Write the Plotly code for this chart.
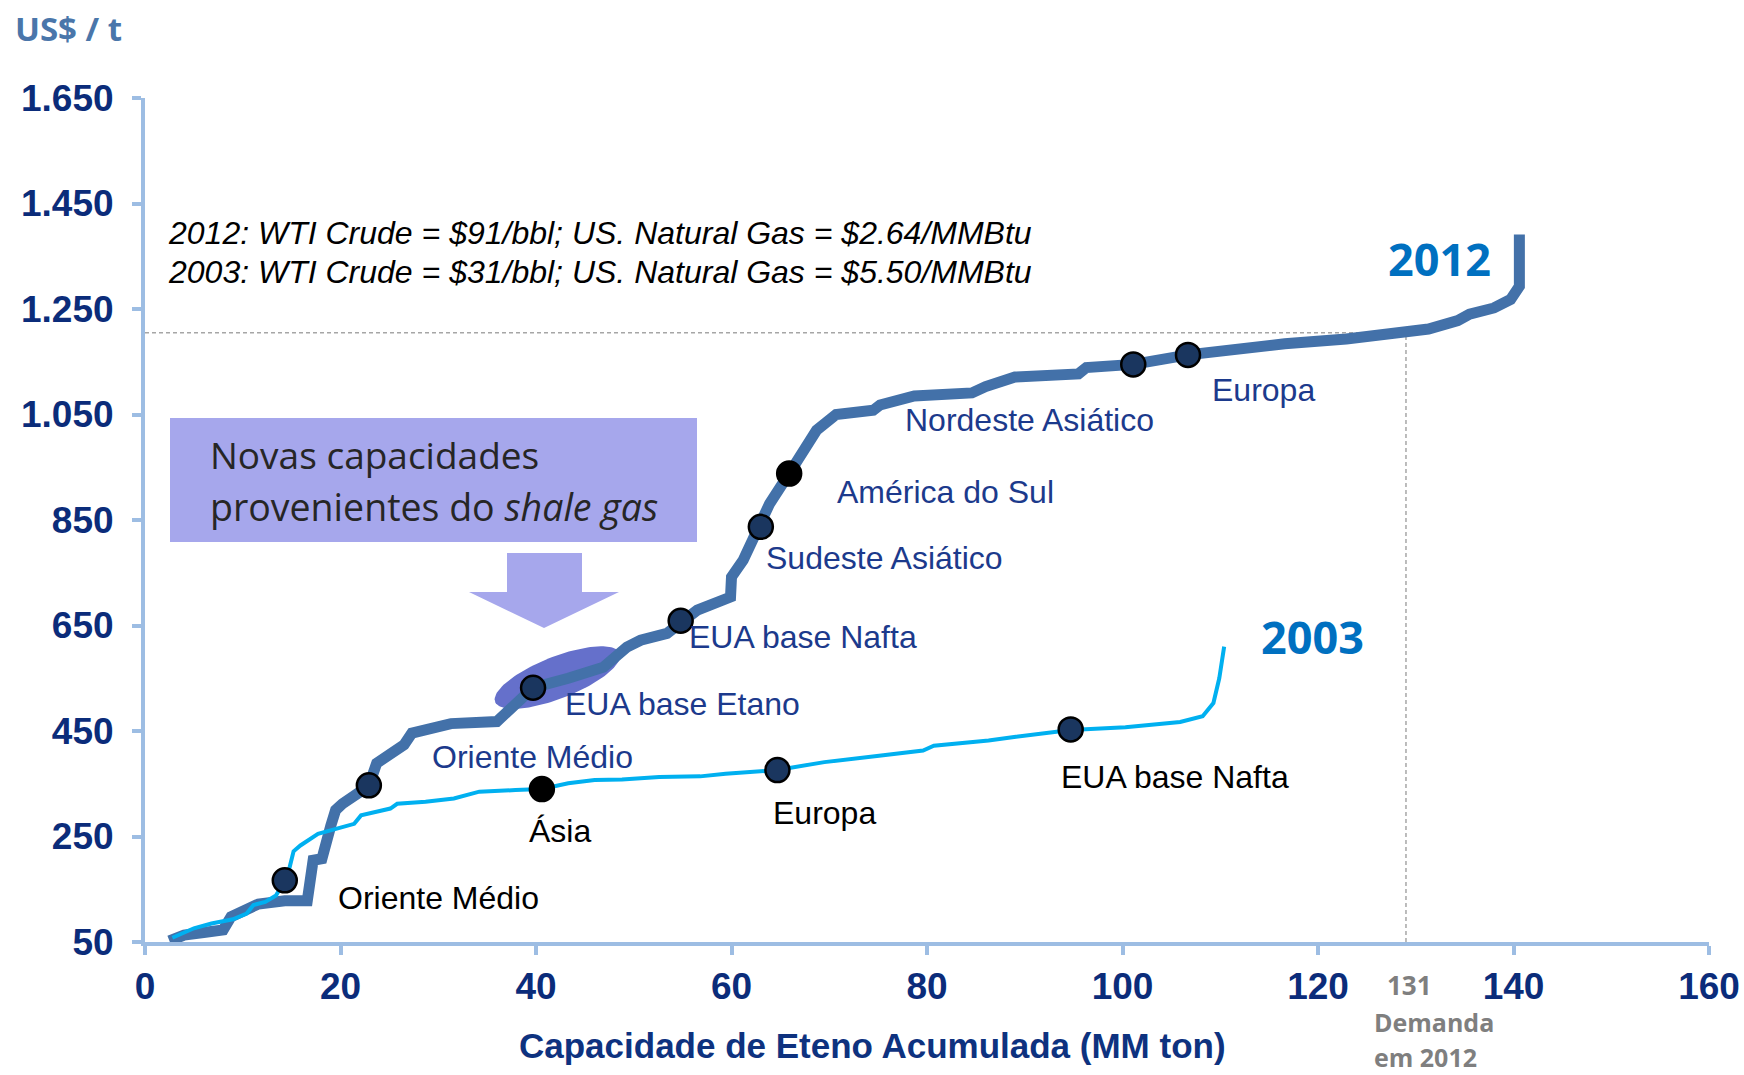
import numpy as np
import plotly.graph_objects as go

# ---------------- data ----------------
x_2012 = [2.5, 4.0, 6.0, 8.0, 8.8, 10.0, 11.6, 14.3, 16.6, 17.2, 18.1, 19.0, 19.5, 20.2, 21.4, 22.9,
          23.7, 25.1, 26.5, 27.3, 30.5, 31.3, 36.0, 37.9, 39.7, 43.3, 44.9, 46.9, 49.3, 50.7, 53.4,
          54.9, 56.5, 59.9, 60.0, 61.2, 62.9, 63.9, 65.9, 68.7, 70.7, 74.5, 75.2, 78.7, 84.6, 86.0,
          89.0, 95.5, 96.3, 101.1, 106.7, 111.6, 116.6, 122.9, 128.0, 131.3, 134.3, 135.5, 138.0,
          139.7, 140.6, 140.6]
y_2012 = [52, 63, 68, 73, 98, 110, 122, 128, 128, 205, 208, 270, 300, 312, 325, 346,
          389, 405, 424, 446, 458, 464, 468, 502, 532, 550, 559, 571, 609, 622, 635,
          659, 679, 704, 742, 774, 837, 881, 938, 1020, 1050, 1058, 1068, 1085, 1091, 1103,
          1121, 1127, 1139, 1145, 1163, 1175, 1184, 1193, 1203, 1212, 1228, 1240, 1252,
          1268, 1293, 1391]

x_2003 = [2.8, 5.0, 6.8, 9.0, 10.4, 11.1, 12.3, 13.4, 14.3, 14.8, 15.2, 15.9, 17.7, 19.6, 21.4,
          22.1, 25.1, 25.8, 28.7, 31.6, 34.2, 37.9, 40.6, 43.3, 46.0, 48.8, 52.6, 56.8, 59.4,
          64.7, 69.5, 75.1, 79.6, 80.7, 86.3, 89.1, 94.7, 100.3, 105.9, 108.2, 109.3, 109.9, 110.4]
y_2003 = [58, 76, 85, 93, 104, 120, 126, 138, 167, 192, 222, 233, 255, 265, 274,
          290, 303, 312, 316, 322, 335, 338, 340, 351, 357, 358, 363, 364, 369,
          376, 391, 403, 413, 422, 432, 439, 452, 457, 467, 478, 503, 550, 610]

# regions marked on the curves
regions_2012 = ["Oriente Médio", "EUA base Etano", "EUA base Nafta", "Sudeste Asiático",
                "América do Sul", "Nordeste Asiático", "Europa"]
mx_2012 = [22.9, 39.7, 54.8, 63.0, 65.9, 101.1, 106.7]
my_2012 = [347, 532, 659, 837, 938, 1145, 1163]

regions_2003 = ["Oriente Médio", "Ásia", "Europa", "EUA base Nafta"]
mx_2003 = [14.3, 40.6, 64.7, 94.7]
my_2003 = [167, 340, 376, 453]

x_ticks = [0, 20, 40, 60, 80, 100, 120, 140, 160]
y_ticks = [50, 250, 450, 650, 850, 1050, 1250, 1450, 1650]
y_tick_text = ["50", "250", "450", "650", "850", "1.050", "1.250", "1.450", "1.650"]

demand_2012 = 129          # position of the demand marker line on the axis
demand_label = "131"
demand_price = 1205

notes = ["2012: WTI Crude = $91/bbl; US. Natural Gas = $2.64/MMBtu",
         "2003: WTI Crude = $31/bbl; US. Natural Gas = $5.50/MMBtu"]

# ---------------- styling / layout helpers ----------------
NAVY_TICK = "#0b2c7a"
NAVY_LBL = "#1c3a8c"
LINE12 = "#4371a9"
LINE03 = "#00b0f0"
MK_NAVY = "#1a365f"
AXIS = "#9dbde3"
LAV = "#a6a7ec"

W, H = 1744, 1075
PL, PR, PT, PB = 145, 1709, 98, 942     # plot area on the page (px)
XS = (PR - PL) / 160.0
YS = (PB - PT) / 1600.0

def px_x(px):
    return (px - PL) / XS

def px_y(py):
    return 50 + (PB - py) / YS

def pap_x(px):
    return (px - PL) / (PR - PL)

def pap_y(py):
    return (PB - py) / (PB - PT)

fig = go.Figure()

# ellipse highlighting ethane-based US capacity
cx, cy, ea, eb, th = 557.5, 677.5, 67, 21, np.radians(21.4)
t = np.linspace(0, 2 * np.pi, 120)
ex = cx + ea * np.cos(t) * np.cos(th) - eb * np.sin(t) * np.sin(th)
ey = cy - (ea * np.cos(t) * np.sin(th) + eb * np.sin(t) * np.cos(th))
fig.add_trace(go.Scatter(x=px_x(ex), y=px_y(ey), mode="lines", fill="toself",
                         fillcolor="#6570cb", line=dict(width=0, color="#6570cb"),
                         hoverinfo="skip"))

fig.add_trace(go.Scatter(x=x_2012, y=y_2012, mode="lines",
                         line=dict(color=LINE12, width=11), hoverinfo="skip"))
fig.add_trace(go.Scatter(x=x_2003, y=y_2003, mode="lines",
                         line=dict(color=LINE03, width=4), hoverinfo="skip"))

col03 = [MK_NAVY if r != "Ásia" else "#000000" for r in regions_2003]
col12 = [MK_NAVY if r != "América do Sul" else "#000000" for r in regions_2012]
fig.add_trace(go.Scatter(x=mx_2003, y=my_2003, mode="markers",
                         marker=dict(size=24, color=col03, line=dict(color="#000000", width=2.5))))
fig.add_trace(go.Scatter(x=mx_2012, y=my_2012, mode="markers",
                         marker=dict(size=24, color=col12, line=dict(color="#000000", width=2.5))))

# labels (page pixel centres)
lbl12_pos = [(532, 757), (682, 704), (803, 637), (884, 558), (945, 492), (1029, 420), (1263, 390)]
lbl03_pos = [(438, 898), (560, 831), (824, 813), (1175, 777)]

C = dict(xanchor="center", yanchor="middle", showarrow=False)
L = dict(xanchor="left", yanchor="middle", showarrow=False)

ann = []
for r, (px, py) in zip(regions_2012, lbl12_pos):
    ann.append(dict(x=px_x(px), y=px_y(py), text=r, **C,
                    font=dict(family="Liberation Sans", size=32, color=NAVY_LBL)))
for r, (px, py) in zip(regions_2003, lbl03_pos):
    ann.append(dict(x=px_x(px), y=px_y(py), text=r, **C,
                    font=dict(family="Liberation Sans", size=32, color="#000000")))

for txt, py in zip(notes, [232.5, 271.5]):
    ann.append(dict(x=px_x(166), y=px_y(py), text="<i>" + txt + "</i>", **L,
                    font=dict(family="Liberation Sans", size=32, color="#000000")))

ann.append(dict(x=px_x(1439), y=px_y(258), text="2012", **C,
                font=dict(family="Open Sans", size=45, color="#0070c0", weight="bold")))
ann.append(dict(x=px_x(1312), y=px_y(636), text="2003", **C,
                font=dict(family="Open Sans", size=45, color="#0070c0", weight="bold")))

ann.append(dict(x=px_x(208), y=px_y(454), text="Novas capacidades", **L,
                font=dict(family="Open Sans", size=37, color="#262626")))
ann.append(dict(x=px_x(208), y=px_y(506), text="provenientes do <i>shale gas</i>", **L,
                font=dict(family="Open Sans", size=37.5, color="#262626")))

# texts outside the plotting area (paper coordinates)
ann.append(dict(xref="paper", yref="paper", x=pap_x(68), y=pap_y(28), text="US$ / t", **C,
                font=dict(family="Open Sans", size=33, color="#4a76aa", weight="bold")))
ann.append(dict(xref="paper", yref="paper", x=pap_x(872), y=pap_y(1045),
                text="Capacidade de Eteno Acumulada (MM ton)", **C,
                font=dict(family="Liberation Sans", size=35, color="#0e327f", weight="bold")))

GREY = "#7f7f7f"
ann.append(dict(xref="paper", yref="paper", x=pap_x(1409), y=pap_y(985), text=demand_label, **C,
                font=dict(family="Open Sans", size=26, color=GREY, weight="bold")))
ann.append(dict(xref="paper", yref="paper", x=pap_x(1372), y=pap_y(1022), text="Demanda", **L,
                font=dict(family="Open Sans", size=25, color=GREY, weight="bold")))
ann.append(dict(xref="paper", yref="paper", x=pap_x(1372), y=pap_y(1057), text="em 2012", **L,
                font=dict(family="Open Sans", size=25, color=GREY, weight="bold")))

shapes = [
    dict(type="rect", xref="x", yref="y", x0=px_x(170), x1=px_x(697), y0=px_y(542), y1=px_y(418),
         fillcolor=LAV, line=dict(width=0), layer="below"),
    dict(type="path", xref="x", yref="y", fillcolor=LAV, line=dict(width=0), layer="below",
         path="M {a},{b} L {c},{b} L {c},{d} L {e},{d} L {f},{g} L {h},{d} L {i},{d} Z".format(
             a=px_x(507), b=px_y(553), c=px_x(582), d=px_y(592), e=px_x(619),
             f=px_x(544), g=px_y(628), h=px_x(469), i=px_x(507))),
    dict(type="line", xref="x", yref="y", x0=0, x1=demand_2012, y0=demand_price, y1=demand_price,
         line=dict(color="#a6a6a6", width=1.5, dash="4px,3px"), layer="below"),
    dict(type="line", xref="x", yref="y", x0=demand_2012, x1=demand_2012, y0=50, y1=demand_price,
         line=dict(color="#a6a6a6", width=1.5, dash="4px,3px"), layer="below"),
]

axis_common = dict(showgrid=False, zeroline=False, showline=True, linecolor=AXIS, linewidth=4,
                   ticks="outside", ticklen=9, tickwidth=4, tickcolor=AXIS,
                   ticklabeloverflow="allow", automargin=False,
                   tickfont=dict(family="Liberation Sans", size=37, color=NAVY_TICK, weight="bold"))

fig.update_layout(
    width=W, height=H,
    margin=dict(l=PL, r=W - PR, t=PT, b=H - PB, pad=0, autoexpand=False),
    paper_bgcolor="white", plot_bgcolor="white",
    showlegend=False, hovermode=False,
    xaxis=dict(range=[0, 160], tickvals=x_ticks, ticklabelstandoff=0, **axis_common),
    yaxis=dict(range=[50, 1650], tickvals=y_ticks, ticktext=y_tick_text,
               ticklabelstandoff=11, **axis_common),
    annotations=ann, shapes=shapes,
)

# remove the browser's default body margin so the figure fills the window exactly
fig.write_html("out.html", config={"displayModeBar": False},
               post_script="document.body.style.margin='0';document.body.style.overflow='hidden';")
